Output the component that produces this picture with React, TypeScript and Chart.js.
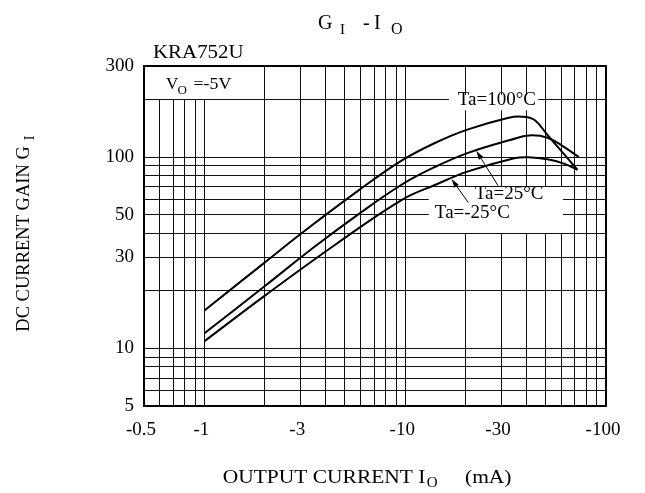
import React, { useEffect, useRef } from "react";
import { Chart, registerables } from "chart.js";

Chart.register(...registerables);

// ---- data (output current |Io| in mA, DC current gain Gi) ----
const ioTa100 = [1, 2, 3.08, 5.77, 9.63, 14.06, 20.56, 32.4, 38, 43.9, 51.1, 59.4, 72];
const giTa100 = [15.8, 28.2, 40.4, 66.3, 96.2, 118.7, 139.8, 160.3, 163, 157, 130.7, 108.9, 86];

const ioTa25 = [1, 2, 3.52, 5.77, 9.63, 14.06, 20.56, 33.65, 41.4, 51.1, 61.7, 73];
const giTa25 = [12, 21.2, 33.9, 49.8, 72, 88.9, 105.4, 123.5, 130, 126.5, 113.4, 100.4];

const ioTaM25 = [1, 2, 4.59, 9.63, 14.06, 20.56, 34.9, 41, 51.1, 61.7, 72];
const giTaM25 = [10.9, 18.9, 35.5, 59.9, 71.6, 84.3, 98.8, 100, 97.6, 92.6, 86];

// ---- axes ----
const xGridValues = [0.5, 0.6, 0.7, 0.8, 0.9, 1, 2, 3, 4, 5, 6, 7, 8, 9, 10, 20, 30, 40, 50, 60, 70, 80, 90, 100];
const yGridValues = [5, 6, 7, 8, 9, 10, 20, 30, 40, 50, 60, 70, 80, 90, 100, 200, 300];
const xTickLabels = [0.5, 1, 3, 10, 30, 100];
const yTickLabels = [5, 10, 30, 50, 100, 300];

const FONT = '"Liberation Serif", "Times New Roman", serif';

function toPoints(xs: number[], ys: number[]) {
  return xs.map((x, i) => ({ x, y: ys[i] }));
}

function isIn(list: number[], v: number) {
  return list.some((t) => Math.abs(t - v) / t < 1e-6);
}

function drawText(
  ctx: CanvasRenderingContext2D,
  s: string,
  x: number,
  y: number,
  size: number,
  sx = 1,
  align: CanvasTextAlign = "left",
  baseline: CanvasTextBaseline = "alphabetic"
) {
  ctx.save();
  ctx.font = `${size}px ${FONT}`;
  ctx.fillStyle = "#000";
  ctx.textAlign = align;
  ctx.textBaseline = baseline;
  ctx.translate(x, y);
  ctx.scale(sx, 1);
  ctx.fillText(s, 0, 0);
  ctx.restore();
}

function drawArrow(ctx: CanvasRenderingContext2D, x0: number, y0: number, x1: number, y1: number) {
  const a = Math.atan2(y1 - y0, x1 - x0);
  const L = 9;
  const W = 2.6;
  ctx.save();
  ctx.strokeStyle = "#000";
  ctx.fillStyle = "#000";
  ctx.lineWidth = 1;
  ctx.beginPath();
  ctx.moveTo(x0, y0);
  ctx.lineTo(x1 - Math.cos(a) * L * 0.8, y1 - Math.sin(a) * L * 0.8);
  ctx.stroke();
  ctx.beginPath();
  ctx.moveTo(x1, y1);
  ctx.lineTo(x1 - Math.cos(a) * L - Math.sin(a) * W, y1 - Math.sin(a) * L + Math.cos(a) * W);
  ctx.lineTo(x1 - Math.cos(a) * L + Math.sin(a) * W, y1 - Math.sin(a) * L - Math.cos(a) * W);
  ctx.closePath();
  ctx.fill();
  ctx.restore();
}

export default function App() {
  const ref = useRef<HTMLCanvasElement>(null);

  useEffect(() => {
    const canvas = ref.current;
    if (!canvas) return;

    const edge = (p: number) => Math.round(p - 0.5);

    const overlay = {
      id: "overlay",
      beforeDatasetsDraw(chart: any) {
        const ctx: CanvasRenderingContext2D = chart.ctx;
        const ca = chart.chartArea;
        const xs = chart.scales.x;
        const ys = chart.scales.y;
        ctx.save();
        ctx.fillStyle = "#fff";
        // V_O box (top-left)
        const bx = edge(xs.getPixelForValue(2));
        const by = edge(ys.getPixelForValue(200));
        ctx.fillRect(ca.left, ca.top, bx - ca.left, by - ca.top);
        // Ta=100 label box
        const x1 = xs.getPixelForValue(16.5);
        const x2 = xs.getPixelForValue(46);
        const y1 = ys.getPixelForValue(212);
        const y2 = ys.getPixelForValue(176);
        ctx.fillRect(x1, y1, x2 - x1, y2 - y1);
        // Ta=25 / Ta=-25 label box
        const x3 = xs.getPixelForValue(13.1);
        const x4 = xs.getPixelForValue(61);
        const y3 = edge(ys.getPixelForValue(70)) + 1;
        const y4 = edge(ys.getPixelForValue(40));
        ctx.fillRect(x3, y3, x4 - x3, y4 - y3);
        ctx.restore();
      },
      afterDatasetsDraw(chart: any) {
        const ctx: CanvasRenderingContext2D = chart.ctx;
        const xs = chart.scales.x;
        const ys = chart.scales.y;
        const px = (v: number) => xs.getPixelForValue(v);
        const py = (v: number) => ys.getPixelForValue(v);
        drawText(ctx, "Ta=100°C", px(28.6), py(200), 19, 1, "center", "middle");
        drawText(ctx, "Ta=25°C", px(32.9), py(64), 19, 1, "center", "middle");
        drawText(ctx, "Ta=-25°C", px(21.6), py(51), 19, 1, "center", "middle");
        drawArrow(ctx, px(29), py(71), px(22.6), py(108));
        drawArrow(ctx, px(20.6), py(58), px(17), py(77));
      },
      afterDraw(chart: any) {
        const ctx: CanvasRenderingContext2D = chart.ctx;
        const ca = chart.chartArea;
        // frame
        ctx.save();
        ctx.strokeStyle = "#000";
        ctx.lineWidth = 2;
        ctx.strokeRect(ca.left, ca.top, ca.right - ca.left, ca.bottom - ca.top);
        ctx.restore();

        // title  G_I - I_O
        drawText(ctx, "G", 318, 28.5, 20);
        drawText(ctx, "I", 340, 33.5, 15);
        drawText(ctx, "-", 363, 28.5, 20);
        drawText(ctx, "I", 374, 28.5, 20);
        drawText(ctx, "O", 391, 33.5, 16);

        // part number + condition
        drawText(ctx, "KRA752U", 153, 58.3, 19, 1.1);
        drawText(ctx, "V", 166, 89, 17);
        drawText(ctx, "O", 177.5, 94, 13);
        drawText(ctx, "=-5V", 193.5, 89, 17, 1.05);

        // x axis title
        drawText(ctx, "OUTPUT CURRENT I", 222.7, 483.3, 19, 1.13);
        drawText(ctx, "O", 426.7, 487, 15);
        drawText(ctx, "(mA)", 465, 483.3, 19, 1.13);

        // y axis title (rotated)
        ctx.save();
        ctx.translate(28.5, 331.7);
        ctx.rotate(-Math.PI / 2);
        drawText(ctx, "DC CURRENT GAIN G", 0, 0, 18.5);
        drawText(ctx, "I", 191.5, 5.5, 14);
        ctx.restore();
      },
    };

    const tickFont = { family: FONT, size: 19 };

    const chart = new Chart(canvas, {
      type: "scatter",
      data: {
        datasets: [
          { label: "Ta=100°C", data: toPoints(ioTa100, giTa100) },
          { label: "Ta=25°C", data: toPoints(ioTa25, giTa25) },
          { label: "Ta=-25°C", data: toPoints(ioTaM25, giTaM25) },
        ].map((d) => ({
          ...d,
          showLine: true,
          borderColor: "#000",
          backgroundColor: "#000",
          borderWidth: 2,
          pointRadius: 0,
          tension: 0.4,
          fill: false,
        })),
      },
      options: {
        animation: false,
        responsive: false,
        devicePixelRatio: 1,
        layout: { padding: { left: 0, top: 66, right: 39, bottom: 0 } },
        plugins: {
          legend: { display: false },
          tooltip: { enabled: false },
          title: { display: false },
        },
        scales: {
          x: {
            type: "logarithmic",
            min: 0.5,
            max: 100,
            afterBuildTicks: (scale: any) => {
              scale.ticks = xGridValues.map((v) => ({ value: v }));
            },
            afterFit: (scale: any) => {
              scale.height = 87;
            },
            grid: { color: "#111", lineWidth: 1, drawTicks: false },
            border: { display: false },
            ticks: {
              autoSkip: false,
              maxRotation: 0,
              minRotation: 0,
              padding: 13,
              labelOffset: -3,
              color: "#000",
              font: tickFont,
              callback: (v: any) => (isIn(xTickLabels, Number(v)) ? "-" + Number(v) : ""),
            },
          },
          y: {
            type: "logarithmic",
            min: 5,
            max: 300,
            afterBuildTicks: (scale: any) => {
              scale.ticks = yGridValues.map((v) => ({ value: v }));
            },
            afterFit: (scale: any) => {
              scale.width = 144;
            },
            grid: { color: "#111", lineWidth: 1, drawTicks: false },
            border: { display: false },
            ticks: {
              autoSkip: false,
              padding: 10,
              color: "#000",
              font: tickFont,
              callback: (v: any) => (isIn(yTickLabels, Number(v)) ? String(Number(v)) : ""),
            },
          },
        },
      },
      plugins: [overlay],
    } as any);

    return () => chart.destroy();
  }, []);

  return (
    <div
      style={{
        position: "fixed",
        left: 0,
        top: 0,
        width: 645,
        height: 493,
        background: "#fff",
      }}
    >
      <canvas ref={ref} width={645} height={493} style={{ display: "block" }} />
    </div>
  );
}
